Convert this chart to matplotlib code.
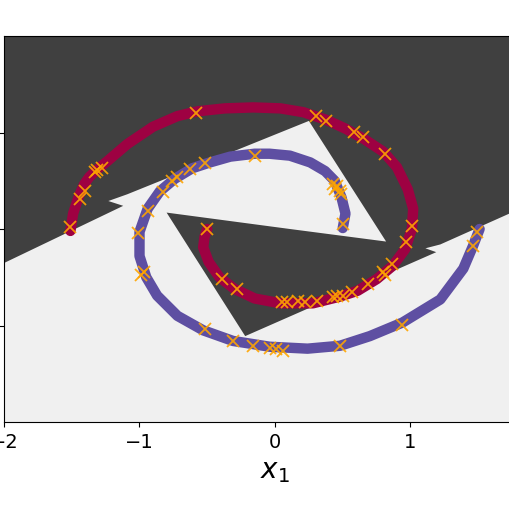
import numpy as np
import matplotlib
matplotlib.use("Agg")
import matplotlib.pyplot as plt

## spiral arms
red_x = [-1.51, -1.49, -1.45, -1.41, -1.37, -1.31, -1.24, -1.09, -0.90, -0.72, -0.57, -0.37, -0.16,
         0.04, 0.21, 0.38, 0.52, 0.66, 0.80, 0.90, 0.98, 1.02, 1.01, 0.96, 0.87, 0.75, 0.61, 0.48,
         0.28, 0.04, -0.15, -0.30, -0.41, -0.49, -0.53, -0.52, -0.50]
red_y = [-0.02, 0.16, 0.33, 0.46, 0.54, 0.62, 0.70, 0.88, 1.06, 1.17, 1.22, 1.25, 1.26,
         1.25, 1.21, 1.13, 1.04, 0.93, 0.80, 0.64, 0.41, 0.21, 0.00, -0.21, -0.38, -0.52, -0.64, -0.70,
         -0.77, -0.77, -0.72, -0.62, -0.50, -0.34, -0.19, -0.08, 0.00]

blue_x = [0.50, 0.52, 0.49, 0.44, 0.37, 0.26, 0.11, -0.04, -0.15, -0.33, -0.48, -0.61, -0.74, -0.85,
          -0.94, -1.00, -1.00, -0.95, -0.87, -0.72, -0.53, -0.31, -0.04, 0.24, 0.48, 0.70, 0.94,
          1.22, 1.39, 1.46, 1.51]
blue_y = [0.01, 0.16, 0.33, 0.50, 0.60, 0.69, 0.76, 0.78, 0.78, 0.75, 0.69, 0.63, 0.52, 0.39,
          0.21, -0.03, -0.28, -0.50, -0.69, -0.90, -1.05, -1.16, -1.22, -1.24, -1.21, -1.11, -0.97,
          -0.73, -0.41, -0.18, 0.00]

## training samples (orange crosses)
red_pts_x = [-1.51, -1.44, -1.40, -1.33, -1.31, -1.28, -0.58, 0.30, 0.38, 0.58, 0.65, 0.81, 1.01,
             0.97, 0.86, 0.80, 0.81, 0.69, 0.57, 0.50, 0.46, 0.43, 0.31, 0.22, 0.17, 0.09, 0.05,
             -0.28, -0.39, -0.50]
red_pts_y = [0.02, 0.31, 0.39, 0.59, 0.61, 0.63, 1.20, 1.17, 1.12, 1.01, 0.95, 0.78, 0.03,
             -0.13, -0.36, -0.45, -0.48, -0.57, -0.65, -0.69, -0.69, -0.70, -0.75, -0.76, -0.75, -0.76, -0.76,
             -0.62, -0.52, 0.00]
blue_pts_x = [0.50, 0.49, 0.48, 0.46, 0.43, 0.44, -0.15, -0.52, -0.63, -0.72, -0.76, -0.83, -0.94,
              -1.01, -0.97, -0.99, -0.52, -0.31, -0.16, -0.04, 0.01, 0.06, 0.48, 0.94, 1.46, 1.49]
blue_pts_y = [0.05, 0.36, 0.39, 0.45, 0.47, 0.41, 0.76, 0.68, 0.62, 0.54, 0.50, 0.38, 0.19,
              -0.04, -0.45, -0.48, -1.04, -1.16, -1.21, -1.23, -1.24, -1.26, -1.21, -0.99, -0.18, -0.03]

## light decision region outline
region_x = [-2.1, -2.1, -1.12, -1.23, -1.09, 0.25, 0.82, 0.11, -0.80, -0.22, 1.19, 1.11, 1.22, 1.73, 2.2, 2.2]
region_y = [-2.1, -0.42, 0.24, 0.29, 0.36, 1.12, -0.13, 0.00, 0.17, -1.11, -0.24, -0.20, -0.16, 0.16, 0.46, -2.1]

xticks = [-2, -1, 0, 1]
yticks = [-1, 0, 1]

fig = plt.figure(figsize=(5.1, 5.1), dpi=100)
# the axes runs past the right edge of the picture, like the cropped original
ax = fig.add_axes([4/510, 87/510, 542/510, 386/510])
ax.set_facecolor("#404040")
ax.fill(region_x, region_y, color="#f0f0f0", lw=0)

ax.plot(red_x, red_y, color="#9e0142", lw=7.5, solid_capstyle="round")
ax.plot(blue_x, blue_y, color="#5e4fa2", lw=7.5, solid_capstyle="round")
ax.plot(red_pts_x, red_pts_y, "x", color="orange", ms=9, mew=1.3, alpha=0.9)
ax.plot(blue_pts_x, blue_pts_y, "x", color="orange", ms=9, mew=1.3, alpha=0.9)

ax.set_xlim(-2, 2)
ax.set_ylim(-2, 2)
ax.set_xticks(xticks)
ax.set_yticks(yticks)
# y tick labels sit outside the cropped picture anyway
ax.tick_params(labelsize=14)
ax.tick_params(axis="y", labelleft=False)
ax.set_xlabel("$x_1$", fontsize=20)

fig.savefig("out.png", dpi=100)
